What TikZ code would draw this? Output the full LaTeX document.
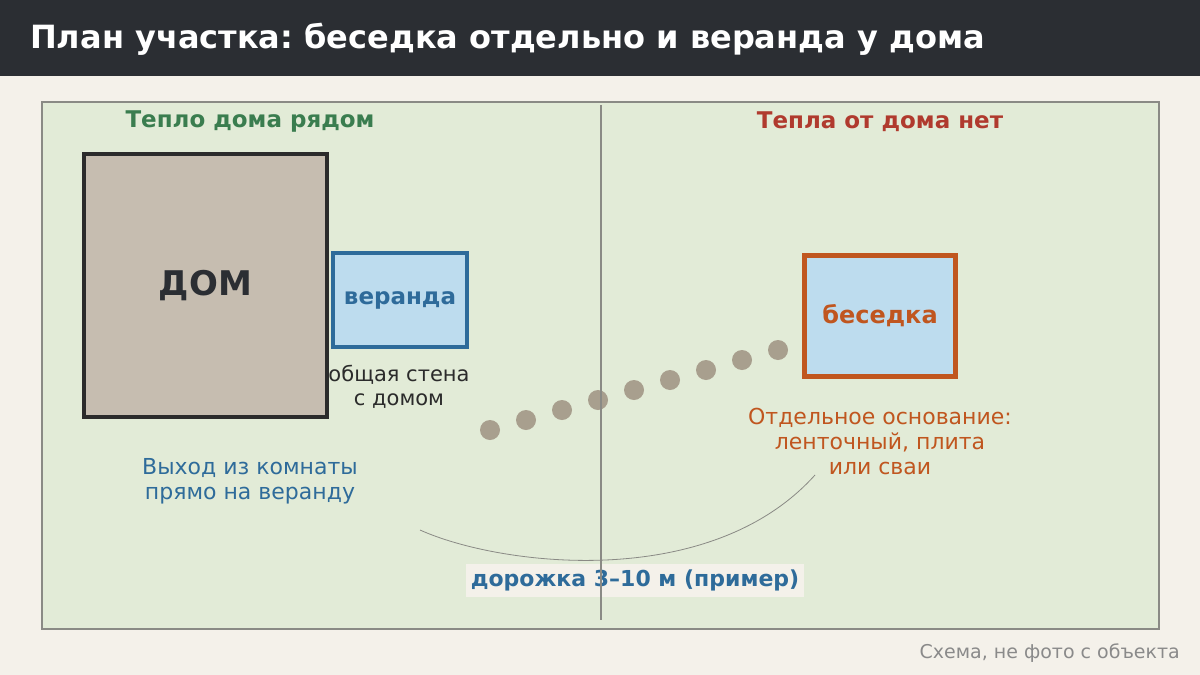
\documentclass[tikz,border=0pt]{standalone}
\usepackage{fontspec}
\setmainfont{DejaVu Sans}
\frenchspacing
\definecolor{dark}{HTML}{2B2E33}
\definecolor{pagebg}{HTML}{F4F1EA}
\definecolor{plotbg}{HTML}{E2EBD7}
\definecolor{plotline}{HTML}{8A8A85}
\definecolor{housefill}{HTML}{C6BDB0}
\definecolor{housedraw}{HTML}{2B2B2B}
\definecolor{verfill}{HTML}{BDDCEE}
\definecolor{verblue}{HTML}{2E6B9A}
\definecolor{orng}{HTML}{C0561F}
\definecolor{grn}{HTML}{3A7D4F}
\definecolor{rd}{HTML}{B03A2E}
\definecolor{dotc}{HTML}{A89F8E}
\definecolor{foot}{HTML}{8A8A8A}
\begin{document}
\begin{tikzpicture}[x=1pt,y=-1pt,
  box/.style={draw,inner sep=0pt,outer sep=0pt},
  head/.style={font=\fontsize{23}{28}\selectfont\bfseries,anchor=center},
  lbl/.style={font=\fontsize{22}{25}\selectfont,align=center,anchor=center,inner sep=0pt},
  stone/.style={fill=dotc,draw=none}]
\useasboundingbox (0,0) rectangle (1200,675);
\fill[pagebg] (0,0) rectangle (1200,675);
\fill[dark] (0,0) rectangle (1200,76);
\node[anchor=west,text=white,font=\fontsize{32}{38}\selectfont\bfseries,inner sep=0pt] (title) at (30,39.5) {План участка: беседка отдельно и веранда у дома};
\draw[plotline,line width=2pt,fill=plotbg] (42,102) rectangle (1159,629);
\node[head,text=grn] (hl) at (250,121.5) {Тепло дома рядом};
\node[head,text=rd] (hr) at (880,121.5) {Тепла от дома нет};
\node[box,draw=housedraw,fill=housefill,line width=4pt,minimum width=243pt,minimum height=263pt,text=dark,font=\fontsize{34}{40}\selectfont\bfseries] (house) at (205.5,285.5) {ДОМ};
\node[box,draw=verblue,fill=verfill,line width=4pt,minimum width=134pt,minimum height=94pt,text=verblue,font=\fontsize{23}{28}\selectfont\bfseries] (ver) at (400,300) {веранда};
\node[box,draw=orng,fill=verfill,line width=5pt,minimum width=151pt,minimum height=121pt,text=orng,font=\fontsize{24}{28}\selectfont\bfseries] (gaz) at (880,316) {беседка};
\node[lbl,text=housedraw,font=\fontsize{21}{24}\selectfont] (wall) at (399,386.5) {общая стена\\с домом};
\node[lbl,text=orng] (base) at (880,441) {Отдельное основание:\\ленточный, плита\\или сваи};
\node[lbl,text=verblue] (exit) at (250,481) {Выход из комнаты\\прямо на веранду};
\foreach \i in {0,...,8} {
  \fill[stone] (490+36*\i,430-10*\i) circle (10pt);
}
\coordinate (arcA) at (420,530);
\coordinate (arcB) at (815,475);
\draw[plotline,line width=0.8pt] (arcA) .. controls (500,566) and (710,592) .. (arcB);
\node[fill=pagebg,inner sep=0pt,minimum width=338pt,minimum height=33pt,text=verblue,font=\fontsize{22}{25}\selectfont\bfseries] (path) at (635,580.5) {дорожка 3–10 м (пример)};
\coordinate (divT) at (601,105);
\coordinate (divB) at (601,620);
\draw[plotline,line width=2pt] (divT) -- (divB);
\node[anchor=east,text=foot,font=\fontsize{19}{22}\selectfont,inner sep=0pt] (note) at (1180,653) {Схема, не фото с объекта};
\end{tikzpicture}
\end{document}
